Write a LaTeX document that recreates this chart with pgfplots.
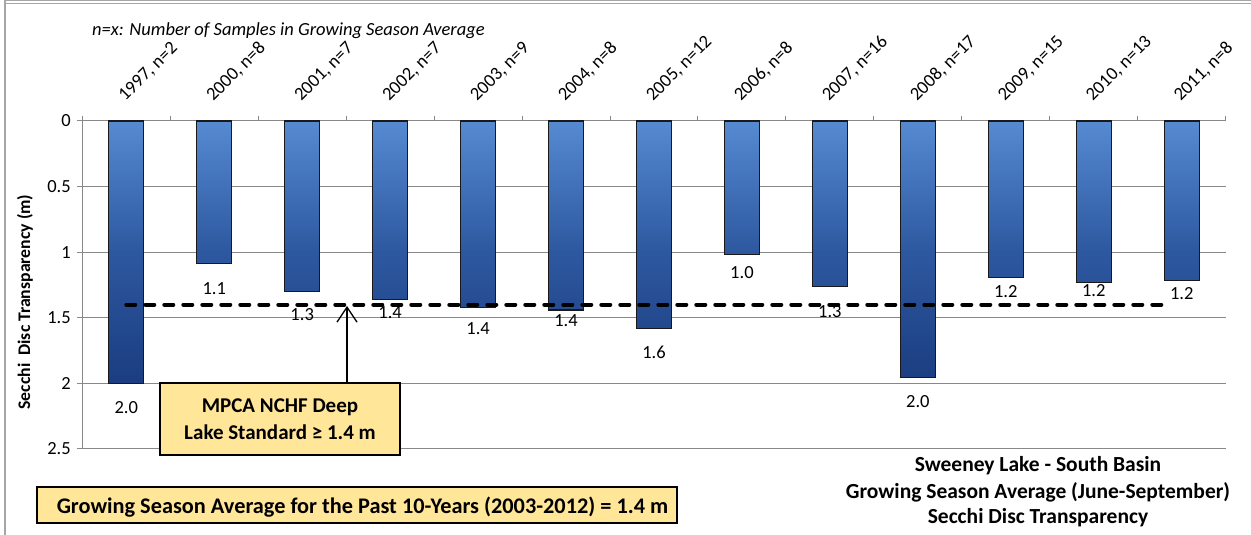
\documentclass[border=0pt]{standalone}
\usepackage{pgfplots}
\pgfplotsset{compat=1.18}
\usepackage{fontspec}
\setmainfont{Carlito}
\usetikzlibrary{arrows.meta}
\definecolor{gridgray}{HTML}{888888}
\definecolor{framegray}{HTML}{A6A6A6}
\definecolor{boxyellow}{HTML}{FFE699}
\definecolor{bardark}{HTML}{0A2160}
\definecolor{barmid}{HTML}{2D58A0}
\definecolor{barlight}{HTML}{5A90D7}
\pgfdeclareverticalshading{barshade}{100bp}{color(0bp)=(bardark); color(50bp)=(barmid); color(78bp)=(barlight); color(100bp)=(barlight)}
\begin{document}
\begin{tikzpicture}[x=1bp,y=1bp]
\path[use as bounding box] (0,0) rectangle (1251,535);
\fill[white] (0,0) rectangle (1251,535);
\draw[framegray, line width=1.2bp] (5,0) -- (5,535);
\draw[framegray, line width=0.9bp] (5,534.2) -- (1251,534.2);
\draw[framegray, line width=0.9bp] (5,531.4) -- (1251,531.4);
\node[anchor=base west, inner sep=0pt, font=\fontsize{18.5bp}{22bp}\selectfont\itshape] at (92,499) {n=x: Number of Samples in Growing Season Average};
\begin{axis}[
  at={(82.3bp,414bp)}, anchor=north west,
  scale only axis, width=1143.4bp, height=328bp,
  y dir=reverse,
  xmin=-0.5, xmax=12.5, ymin=0, ymax=2.5,
  axis x line*=top, axis y line*=left,
  axis line style={gridgray, line width=1bp},
  tick align=outside,
  xtick={0,...,12},
  xticklabels={{1997, n=2},{2000, n=8},{2001, n=7},{2002, n=7},{2003, n=9},{2004, n=8},{2005, n=12},{2006, n=8},{2007, n=16},{2008, n=17},{2009, n=15},{2010, n=13},{2011, n=8}},
  major x tick style={draw=none},
  minor xtick={-0.5,0.5,...,12.5},
  minor x tick style={gridgray, line width=1bp},
  minor tick length=5bp,
  major tick length=5bp,
  xticklabel style={font=\fontsize{18.5bp}{22bp}\selectfont, inner sep=0pt, anchor=base west, xshift=-1bp, yshift=14bp, rotate=45},
  ytick={0,0.5,1,1.5,2,2.5},
  yticklabels={0,0.5,1,1.5,2,2.5},
  yticklabel style={font=\fontsize{18.5bp}{22bp}\selectfont, xshift=-3bp},
  y tick style={gridgray, line width=1bp},
  ymajorgrids,
  grid style={gridgray, line width=1bp},
  clip=false,
]
\addplot[ybar, bar width=35bp, draw=black!90, line width=1.3bp, shade, shading=barshade] coordinates {
(0,2.00) (1,1.085) (2,1.30) (3,1.36) (4,1.42) (5,1.44) (6,1.58) (7,1.02) (8,1.263) (9,1.954) (10,1.194) (11,1.23) (12,1.217)};
\addplot[draw=none, mark=none, nodes near coords, point meta=explicit symbolic,
  every node near coord/.append style={anchor=center, inner sep=0pt, font=\fontsize{18.5bp}{22bp}\selectfont}]
  table[meta=lab] {
x y lab
0 2.187 2.0
1 1.28 1.1
2 1.479 1.3
3 1.463 1.4
4 1.585 1.4
5 1.524 1.4
6 1.766 1.6
7 1.156 1.0
8 1.453 1.3
9 2.139 2.0
10 1.301 1.2
11 1.293 1.2
12 1.319 1.2
};
\addplot[black, line width=4bp, dash pattern=on 9bp off 10bp, line cap=round] coordinates {(0,1.4) (11.85,1.4)};
\end{axis}
\node[rotate=90, font=\fontsize{17.7bp}{22bp}\selectfont\bfseries] at (25,233) {Secchi\ \ Disc Transparency (m)};
\draw[black, line width=1.3bp, -{Straight Barb[length=15bp,width=20bp,line width=1.3bp]}] (347,153) -- (347,229);
\node[draw=black, line width=1.3bp, fill=boxyellow, minimum width=240bp, minimum height=72bp, inner sep=0pt] at (280,116) {};
\node[align=center, font=\fontsize{21bp}{26.5bp}\selectfont\bfseries] at (280,116) {MPCA NCHF Deep\\Lake Standard ≥ 1.4 m};
\fill[boxyellow, draw=black, line width=1.3bp] (37,48) rectangle (677,12);
\node[font=\fontsize{22.3bp}{26bp}\selectfont\bfseries] at (362.5,28) {Growing Season Average for the Past 10-Years (2003-2012) = 1.4 m};
\node[font=\fontsize{21.5bp}{26bp}\selectfont\bfseries] at (1038,69) {Sweeney Lake - South Basin};
\node[font=\fontsize{21.5bp}{26bp}\selectfont\bfseries] at (1038,43) {Growing Season Average (June-September)};
\node[font=\fontsize{21.5bp}{26bp}\selectfont\bfseries] at (1038,17) {Secchi Disc Transparency};
\end{tikzpicture}
\end{document}
